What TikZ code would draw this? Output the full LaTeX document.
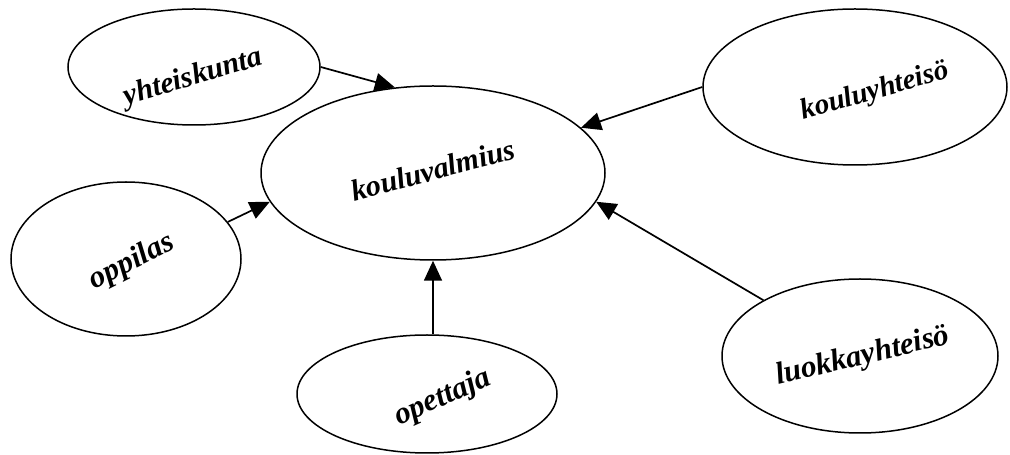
\documentclass[tikz,border=0pt]{standalone}
\usepackage{fontspec}
\setmainfont{Liberation Serif}
\usetikzlibrary{shapes.geometric,arrows.meta}
\newcommand{\fsz}[1]{\fontsize{#1}{#1}\selectfont}
\begin{document}
\begin{tikzpicture}[x=1pt,y=1pt,
  ell/.style={draw, ellipse, line width=1.5pt, inner sep=0pt},
  arr/.style={line width=1.7pt, -{Triangle[length=20pt,width=18pt]}},
  lbl/.style={font=\bfseries\itshape, inner sep=0pt}]
\useasboundingbox (0,0) rectangle (1010,455);
% ellipses
\node[ell, minimum width=252pt, minimum height=116pt] (yh) at (194,388) {};
\node[ell, minimum width=230pt, minimum height=154pt] (op) at (126,196) {};
\node[ell, minimum width=344pt, minimum height=174pt] (kv) at (433,282) {};
\node[ell, minimum width=304pt, minimum height=156pt] (ky) at (855,368) {};
\node[ell, minimum width=276pt, minimum height=154pt] (lk) at (860,99) {};
\node[ell, minimum width=260pt, minimum height=118pt] (ot) at (427,61) {};
% labels
\node[lbl, rotate=15] (kvt) at (433,285) {\fsz{30}kouluvalmius};
\node[lbl, rotate=16.5] (yht) at (193,377) {\fsz{30}yhteiskunta};
\node[lbl, rotate=27] (opt) at (132,193) {\fsz{31}oppilas};
\node[lbl, rotate=24] (ott) at (443,57) {\fsz{31}opettaja};
\node[lbl, rotate=16] (kyt) at (875,363) {\fsz{29}kouluyhteisö};
\node[lbl, rotate=13.5] (lkt) at (863,98) {\fsz{31}luokkayhteisö};
% arrows
\draw[arr] (yh.east) -- (kv.114);
\draw[arr] (ky.west) -- (kv.17.5);
\draw[arr] (op.20.7) -- (kv.190);
\draw[arr] (kv.south |- ot.north) -- (kv.south);
\draw[arr] (lk.150) -- (kv.350);
\end{tikzpicture}
\end{document}
